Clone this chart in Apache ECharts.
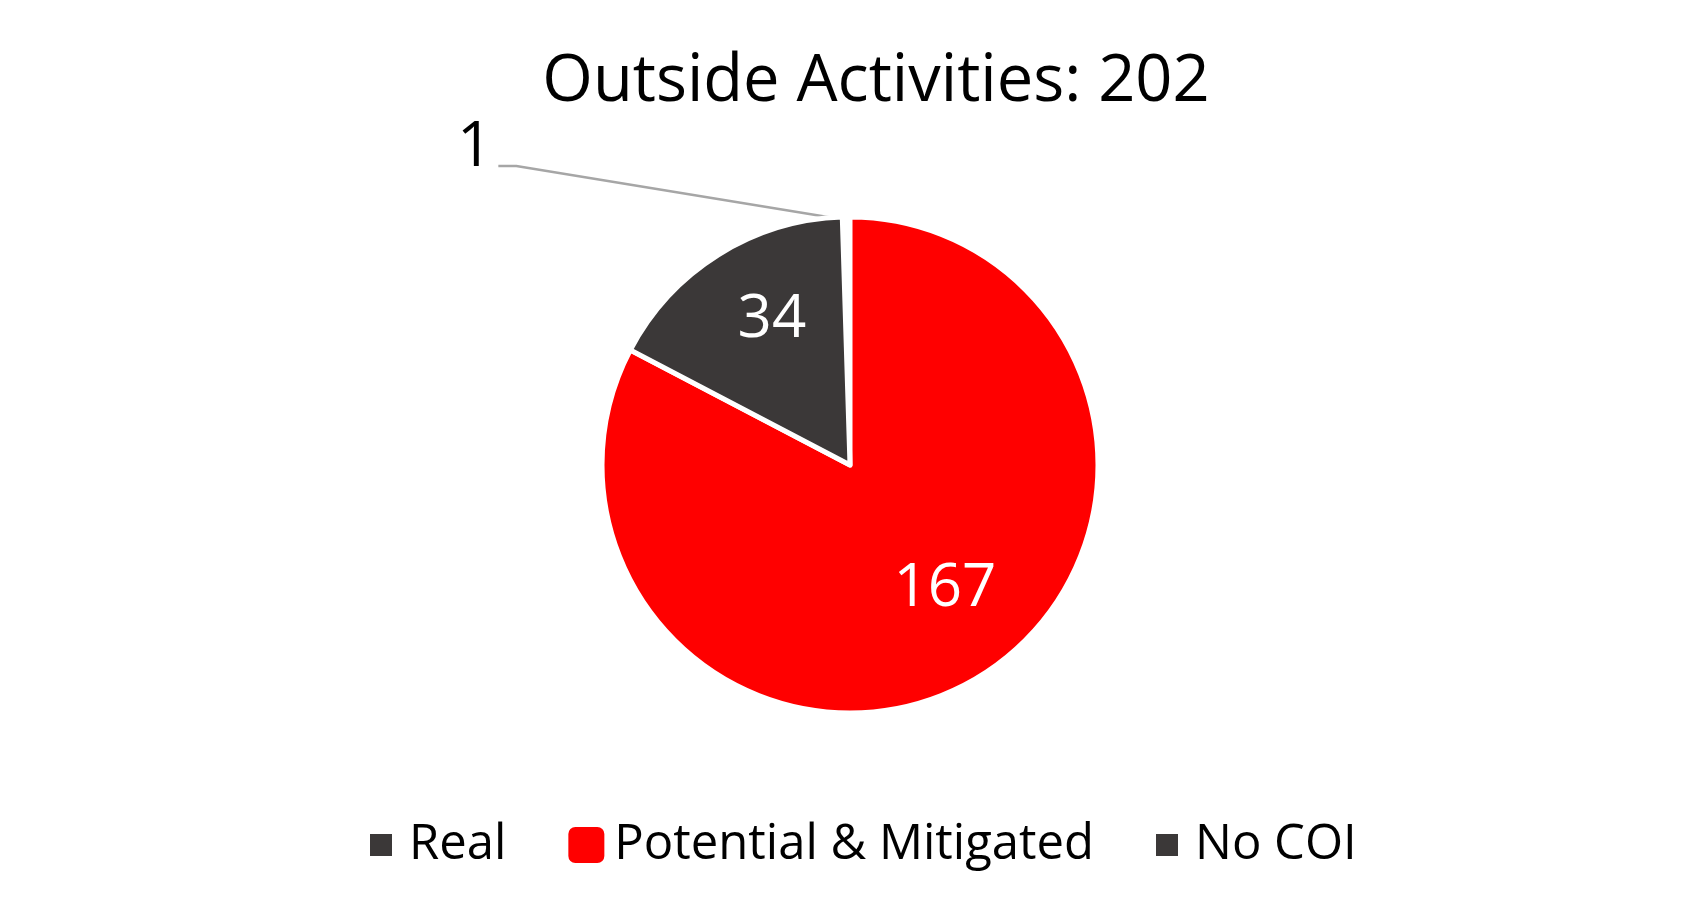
<!DOCTYPE html>
<html>
<head>
<meta charset="utf-8">
<script src="https://cdn.jsdelivr.net/npm/echarts@6/dist/echarts.min.js"></script>
<style>
html,body{margin:0;padding:0;background:#ffffff;}
#chart{width:1699px;height:917px;}
</style>
</head>
<body>
<div id="chart"></div>
<script>
const titleText = 'Outside Activities: 202';
const categories = ['Real', 'Potential & Mitigated', 'No COI'];
const values = [1, 167, 34];
const sliceColors = ['#3B3838', '#FF0000', '#3B3838'];

const FONT = 'Open Sans';
const total = values.reduce((a, b) => a + b, 0);
// first slice ("Real") ends exactly at 12 o'clock, as in the reference
const startAngle = 90 + 360 * values[0] / total;
const pieCenter = [850, 465];

// small per-label nudges [dx, dy] to match the reference label placement
const insideLabelNudge = [[0, 0], [10, -16], [9, -6]];

const chart = echarts.init(document.getElementById('chart'), null, { renderer: 'canvas' });

const option = {
  animation: false,
  backgroundColor: '#ffffff',
  title: {
    text: titleText,
    left: 876,
    top: 42,
    padding: 0,
    textAlign: 'center',
    textStyle: { fontSize: 65, fontFamily: FONT, fontWeight: 'normal', color: '#000000', lineHeight: 80 }
  },
  legend: {
    left: 365,
    top: 812,
    orient: 'horizontal',
    icon: 'rect',
    itemWidth: 22,
    itemHeight: 22,
    itemGap: 62,
    selectedMode: false,
    itemStyle: { borderWidth: 0 },
    textStyle: { fontSize: 49, fontFamily: FONT, color: '#000000', lineHeight: 56, padding: [0, 0, 0, 12] },
    data: categories.map((n, i) => i === 1
      ? { name: n, itemStyle: { borderColor: sliceColors[i], borderWidth: 14, borderJoin: 'round' } }
      : { name: n })
  },
  series: [
    {
      type: 'pie',
      center: pieCenter,
      radius: 248,
      startAngle: startAngle,
      clockwise: true,
      avoidLabelOverlap: false,
      emphasis: { disabled: true },
      itemStyle: { borderColor: '#ffffff', borderWidth: 5 },
      label: { show: false },
      labelLine: { show: false },
      data: categories.map((n, i) => ({
        name: n,
        value: values[i],
        itemStyle: i === 0 ? { color: sliceColors[i], borderWidth: 8 } : { color: sliceColors[i] },
        label: i === 0
          ? { show: true, position: 'outside', formatter: '{c}', color: '#000000', fontSize: 62,
              fontFamily: FONT, distanceToLabelLine: 3 }
          : { show: false },
        labelLine: i === 0
          ? { show: true, length: 51, length2: 347, lineStyle: { color: '#A6A6A6', width: 2.5 } }
          : { show: false }
      })),
      labelLayout: function (p) {
        const pts = p.labelLinePoints;
        if (!pts || pts.length < 3) return {};
        const start = pts[0];
        const end = pts[2];
        return {
          dx: -3,
          dy: -18,
          labelLinePoints: [[start[0] + 6, start[1] + 4], [end[0] + 18, end[1]], end]
        };
      }
    },
    {
      // label carrier: same angles, larger radius so the inside labels sit where the reference puts them
      type: 'pie',
      center: pieCenter,
      radius: 322,
      startAngle: startAngle,
      clockwise: true,
      silent: true,
      z: 3,
      itemStyle: { color: 'rgba(0,0,0,0)', borderWidth: 0 },
      labelLine: { show: false },
      label: { show: true, position: 'inside', formatter: '{c}', color: '#ffffff', fontSize: 60, fontFamily: FONT },
      data: categories.map((n, i) => ({
        name: n,
        value: values[i],
        label: { show: i !== 0 }
      })),
      labelLayout: function (p) {
        const d = insideLabelNudge[p.dataIndex] || [0, 0];
        return { dx: d[0], dy: d[1] };
      }
    }
  ]
};

chart.setOption(option);
</script>
</body>
</html>
